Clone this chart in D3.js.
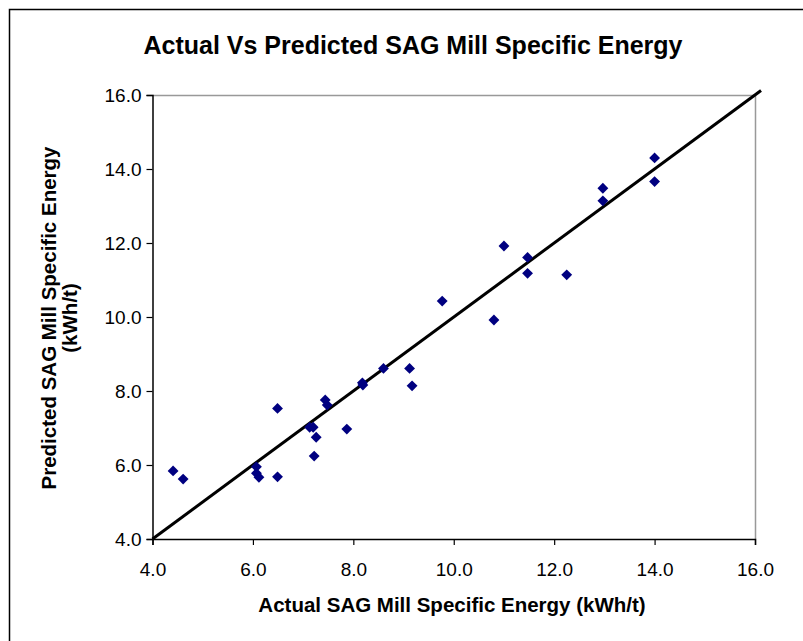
<!DOCTYPE html>
<html>
<head>
<meta charset="utf-8">
<script src="https://cdn.jsdelivr.net/npm/d3@7"></script>
<style>
  body { margin: 0; background: #fff; }
  svg { font-family: "Liberation Sans", Arial, sans-serif; }
</style>
</head>
<body>
<svg id="chart" width="803" height="641"></svg>
<script>
// data
var actual = [4.41, 4.61, 6.07, 6.07, 6.12, 6.49, 6.49, 7.13, 7.20, 7.26, 7.22, 7.44, 7.48, 7.87, 8.18,
              8.19, 8.60, 9.12, 9.17, 9.77, 10.80, 11.00, 11.47, 11.47, 12.25, 12.97, 12.97, 14.00, 14.00];
var predicted = [5.84, 5.62, 5.95, 5.78, 5.67, 5.68, 7.53, 7.02, 7.02, 6.75, 6.24, 7.76, 7.62, 6.97, 8.22,
                 8.16, 8.61, 8.61, 8.14, 10.43, 9.92, 11.92, 11.61, 11.18, 11.14, 13.48, 13.14, 14.30, 13.66];
var fitLine = [4.0, 16.12];
var ticks = [4, 6, 8, 10, 12, 14, 16];

var title = 'Actual Vs Predicted SAG Mill Specific Energy';
var xTitle = 'Actual SAG Mill Specific Energy (kWh/t)';
var yTitle = ['Predicted SAG Mill Specific Energy', '(kWh/t)'];

var margin = {top: 95, right: 48, bottom: 102, left: 152.5},
    width = 803 - margin.left - margin.right,
    height = 641 - margin.top - margin.bottom;

var svg = d3.select('#chart');

// outer frame (cut off at right and bottom like the original)
svg.append('rect')
    .attr('x', 9.5).attr('y', 9.5)
    .attr('width', 900).attr('height', 900)
    .style('fill', 'none')
    .style('stroke', '#000')
    .style('stroke-width', 1.5);

var g = svg.append('g')
    .attr('transform', 'translate(' + margin.left + ',' + margin.top + ')');

var x = d3.scaleLinear().domain([4, 16]).range([0, width]);
var y = d3.scaleLinear().domain([4, 16]).range([height, 0]);

// plot area border (grey top / right)
g.append('path')
    .attr('d', 'M0,0.5H' + (width + 0.5) + 'V' + height)
    .style('fill', 'none')
    .style('stroke', '#999')
    .style('stroke-width', 1.5);

var xAxis = g.append('g')
    .attr('transform', 'translate(0,' + height + ')')
    .call(d3.axisBottom(x).tickValues(ticks).tickSize(6).tickFormat(d3.format('.1f')));

var yAxis = g.append('g')
    .call(d3.axisLeft(y).tickValues(ticks).tickSize(6).tickFormat(d3.format('.1f')));

[xAxis, yAxis].forEach(function(a) {
    a.select('.domain').style('stroke', '#000').style('stroke-width', 1.5);
    a.selectAll('.tick line').style('stroke', '#000').style('stroke-width', 1.2);
    a.selectAll('text')
        .style('font-family', '"Liberation Sans", Arial, sans-serif')
        .style('font-size', '19px')
        .style('fill', '#000');
});
xAxis.selectAll('text').attr('y', 37).attr('dy', 0);
yAxis.selectAll('text').attr('x', -11);

// y = x line
g.append('line')
    .attr('x1', x(fitLine[0])).attr('y1', y(fitLine[0]))
    .attr('x2', x(fitLine[1])).attr('y2', y(fitLine[1]))
    .style('stroke', '#000')
    .style('stroke-width', 3);

var points = actual.map(function(d, i) { return [d, predicted[i]]; });

g.selectAll('.pt')
    .data(points)
    .enter()
    .append('path')
    .attr('class', 'pt')
    .attr('d', d3.symbol().type(d3.symbolDiamond2).size(75))
    .attr('transform', function(d) {
        return 'translate(' + x(d[0]) + ',' + y(d[1]) + ')';
    })
    .style('fill', '#000080');

// titles
svg.append('text')
    .attr('x', 413).attr('y', 54)
    .attr('text-anchor', 'middle')
    .style('font-weight', 'bold')
    .style('font-size', '25px')
    .text(title);

svg.append('text')
    .attr('x', 452).attr('y', 612)
    .attr('text-anchor', 'middle')
    .style('font-weight', 'bold')
    .style('font-size', '20.5px')
    .text(xTitle);

var yt = svg.append('text')
    .attr('transform', 'translate(0,318) rotate(-90)')
    .attr('text-anchor', 'middle')
    .style('font-weight', 'bold')
    .style('font-size', '20.5px');

yt.selectAll('tspan')
    .data(yTitle)
    .enter()
    .append('tspan')
    .attr('x', 0)
    .attr('y', function(d, i) { return 56 + i * 21; })
    .text(function(d) { return d; });
</script>
</body>
</html>
